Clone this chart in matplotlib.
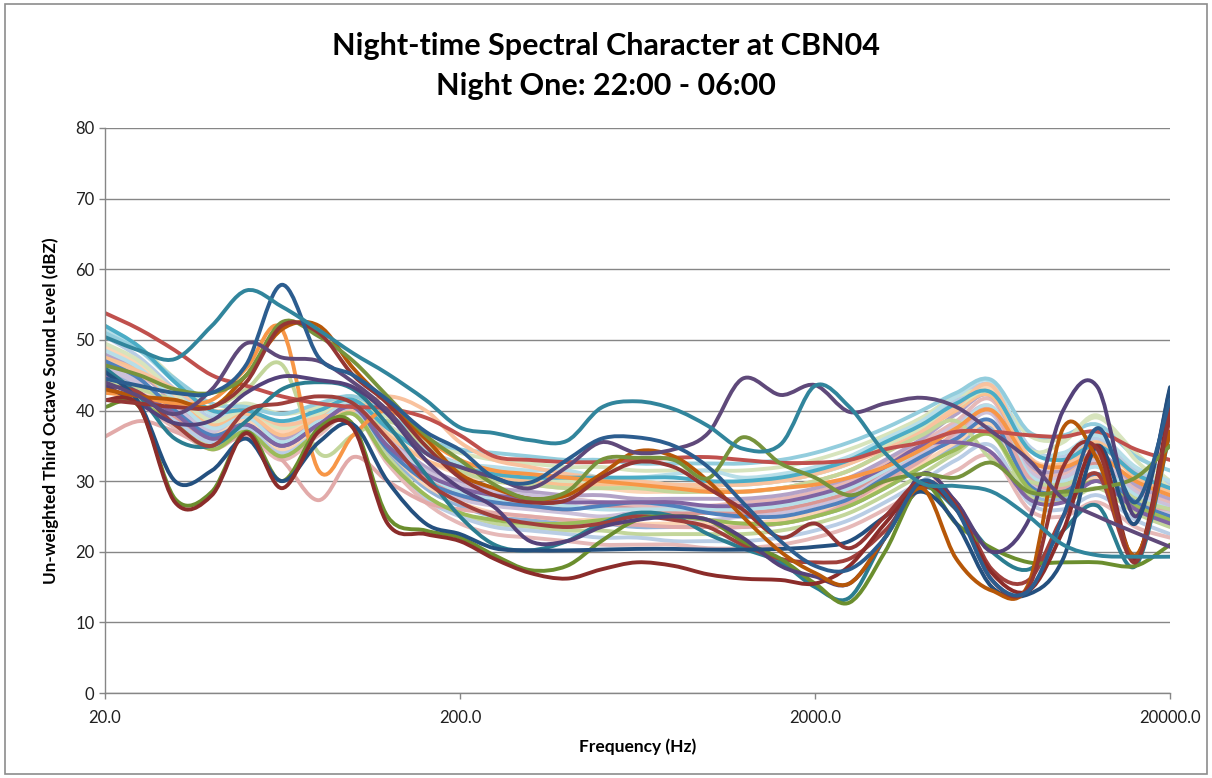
import numpy as np
import matplotlib
matplotlib.use("Agg")
import matplotlib.pyplot as plt
from matplotlib.path import Path
from matplotlib.patches import PathPatch, Rectangle

# third octave band centres (Hz)
FREQS = [20, 25, 31.5, 40, 50, 63, 80, 100, 125, 160, 200, 250, 315, 400, 500, 630,
         800, 1000, 1250, 1600, 2000, 2500, 3150, 4000, 5000, 6300, 8000, 10000,
         12500, 16000, 20000]
X_TICKS = [20, 200, 2000, 20000]
X_TICK_LABELS = ["20.0", "200.0", "2000.0", "20000.0"]
Y_TICKS = [0, 10, 20, 30, 40, 50, 60, 70, 80]

TITLE = "Night-time Spectral Character at CBN04\nNight One: 22:00 - 06:00"
X_LABEL = "Frequency (Hz)"
Y_LABEL = "Un-weighted Third Octave Sound Level (dBZ)"

# --- pale / background series (dBZ per band) ---
B01 = [50.5, 47.5, 43, 39, 40.5, 37.5, 40, 41.5, 38, 34.5, 32.5, 31.5, 31, 30.5, 30, 30, 29.5, 29.5, 29.5, 30, 31, 32.5, 35, 38, 41.5, 43.5, 35, 33.5, 36, 31.5, 29.5]
B02 = [47, 45, 41.5, 37.5, 39, 35, 38.5, 41, 36, 31, 29, 28, 27.5, 27.5, 27, 26.5, 26.5, 26.5, 27, 27.5, 28.5, 30, 32.5, 35.5, 38.5, 41.5, 32, 31, 34, 29, 27]
B03 = [52, 49, 44.5, 40, 41, 39.5, 40.5, 42, 39, 35.5, 34, 33, 32.5, 32, 32, 31.5, 31.5, 31.5, 31.5, 32, 33, 34.5, 36.5, 39, 42, 42.5, 36.5, 36, 39, 34, 30]
B04 = [46, 43.5, 40, 36.5, 38.5, 34, 37.5, 40.5, 35, 30, 27.5, 26.5, 26, 25.5, 25, 25.5, 25, 24.5, 25, 25.5, 26.5, 28, 31, 34, 36.5, 39.5, 30, 29, 31, 27.5, 25.5]
B05 = [51.5, 48.5, 44, 39.5, 40, 38, 40, 41.5, 37.5, 34, 32.5, 32, 31.5, 31.5, 30.5, 30.5, 31, 31.5, 30.5, 31, 32, 33.5, 36, 38.5, 42, 44, 34.5, 34, 36.5, 32, 30]
B06 = [49, 46.5, 42, 38.5, 40, 37, 39.5, 41.5, 37, 33, 31, 30, 29.5, 29, 29, 28.5, 28.5, 28.5, 28.5, 29, 30, 31.5, 34, 37, 40.5, 43, 33.5, 32.5, 35, 30.5, 28.5]
B07 = [45.5, 43, 39, 36, 38, 34.5, 37.5, 40.5, 34, 29, 26.5, 25, 24.5, 24, 24, 23.5, 23.5, 23.5, 23.5, 24, 25, 26.5, 29, 32, 35, 37.5, 28.5, 27.5, 30, 26, 24.5]
B08 = [44.5, 42.5, 39, 36, 38, 35, 38, 40.5, 35.5, 30.5, 28, 27, 26.5, 26, 26.5, 26, 25.5, 25.5, 25.5, 26, 27, 28.5, 31.5, 34.5, 37.5, 40, 31, 30, 32.5, 28, 26]
B09 = [43, 41.5, 38, 35, 37, 33.5, 37, 40, 33.5, 28, 25.5, 24, 23.5, 23, 23, 22.5, 22.5, 22.5, 22.5, 23, 24, 25.5, 28, 31, 34, 36.5, 28, 27, 29, 25.5, 23.5]
B10 = [48, 45.5, 41, 37.5, 39.5, 36, 39, 41, 36.5, 32, 30, 29, 28.5, 28, 28, 27.5, 27.5, 27.5, 27.5, 28, 29, 30.5, 33, 36, 39.5, 42, 32.5, 31.5, 34, 29.5, 27.5]
B11 = [51, 48.5, 44.5, 41, 40.5, 39.5, 41, 42, 39.5, 36, 34.5, 34, 33.5, 33, 33, 32.5, 32.5, 32.5, 32.5, 33, 34, 35.5, 37.5, 40, 42.5, 44.3, 37, 36.5, 38, 33.5, 31.5]
B12 = [47.5, 45.5, 41.5, 38, 39.5, 36.5, 39, 41, 36.5, 33, 31.5, 30.5, 30, 29.5, 29.5, 29.5, 29, 29, 28.5, 29, 30, 31.5, 34, 37, 40, 42, 33, 32.5, 35.5, 30.5, 28.5]
B13 = [44, 42, 38.5, 35.5, 37.5, 34, 37.5, 40, 33, 27.5, 25, 23.5, 23, 22.5, 22, 22, 21.5, 21.5, 21.5, 22, 23, 24.5, 27, 30, 33, 35, 27, 26, 28, 24.5, 22.5]
B14 = [43.5, 41, 37.5, 34.5, 36.5, 33, 36.5, 39.5, 32.5, 27, 24, 22.5, 22, 21.5, 21, 21, 21, 20.5, 20.5, 21, 22, 23.5, 26, 29, 31.5, 33.5, 26, 25, 27, 23.5, 22]
B15 = [49.5, 47, 42.5, 38.5, 40, 37.5, 39.5, 41.5, 38, 34, 32, 31, 30.5, 30, 30, 30, 29.5, 29.5, 29.5, 30, 31, 32.5, 35, 37.5, 40.5, 42.5, 34.5, 35.5, 39.3, 33, 29]
B16 = [46.5, 44, 40.5, 37, 38.5, 35.5, 38.5, 41, 36, 31.5, 29.5, 28.5, 28, 27.5, 27, 27, 26.5, 26.5, 26.5, 27, 28, 29.5, 32, 35, 38, 40.5, 31.5, 30.5, 33, 28.5, 26.5]
B17 = [48.5, 46, 41.5, 37.5, 39, 35.5, 38.5, 41, 35.5, 31, 28.5, 27.5, 27, 26.5, 26, 26, 26, 26, 26, 26.5, 27.5, 29, 31.5, 34.5, 37.5, 40.5, 31, 30, 32, 28, 26]
B18 = [45, 43, 39.5, 36.5, 38.5, 34.5, 38, 40.5, 34.5, 29.5, 27, 25.5, 25, 24.5, 24.5, 24, 24, 24, 24, 24.5, 25.5, 27, 29.5, 32.5, 35.5, 38, 29.5, 28.5, 30.5, 27, 25]
PINK_LOW = [36.3, 38.5, 37, 34.8, 36.3, 33, 27.3, 33.4, 30, 27, 26, 25.5, 25, 24.5, 24, 23.8, 23.5, 23.5, 23.5, 24, 25, 27, 30, 33, 37, 40, 30.5, 29, 31, 27, 26]
PEACH = [47, 45.5, 43, 40, 40, 38, 39, 40, 42, 40, 35.5, 33, 32, 31, 30.5, 30, 29.5, 29.5, 29.5, 30, 31, 32.5, 34.5, 37, 40.5, 43.5, 33.5, 32, 35, 31, 29]
LIGHT_GREEN = [44, 43, 41.5, 40.5, 43, 46.5, 34, 36.5, 38.5, 35, 31.5, 30, 29.5, 29, 29, 29, 28.5, 28.5, 28.5, 29, 30, 31.5, 34, 36.5, 38.5, 33, 30, 29.5, 31, 27.5, 26]

# --- mid tone series ---
BLUE = [47, 44.5, 40, 36.5, 38, 35, 38, 40.5, 34.5, 30, 28, 27, 26.5, 26, 26.5, 27, 26.5, 25.5, 25, 25, 26, 27.5, 30.5, 33.5, 36, 38.5, 29.5, 28.5, 31, 27, 25]
GREEN = [41.5, 41, 38, 34.5, 37, 33.5, 37, 39.5, 33, 28, 25.5, 24.5, 24, 24, 24.5, 25, 25, 24.5, 24, 24, 25, 26.5, 29, 32, 34.5, 36.5, 29, 28, 30, 26.5, 24.5]
VIOLET = [45, 42.5, 39.5, 36, 38, 35, 38, 40.5, 35, 31, 29, 28, 27.5, 27, 27, 27, 27, 26.5, 26.5, 27, 28, 29.5, 32, 35, 35.5, 34, 27.5, 27, 30, 26, 24]
AQUA = [52, 49, 44, 40, 40, 38.5, 40, 41.5, 37.5, 34, 32, 31, 30.5, 30.5, 30.5, 30.5, 30.5, 30, 30, 30.5, 31.5, 33, 35.5, 38, 41, 42.5, 34.5, 33, 35, 31, 29]
ORANGE = [42.5, 42, 41, 41.5, 46, 51.5, 31.5, 36.5, 40, 36, 33, 31.5, 31, 30.5, 30, 29.5, 29, 28.5, 28.5, 29, 29.5, 30.5, 32, 34.5, 37.5, 40, 33, 32, 33.5, 30, 28]
RED = [53.8, 51.5, 48.5, 45, 43.5, 42, 41, 40.5, 40.3, 39, 36.5, 33.5, 33, 32.7, 32.7, 33, 33.3, 33.4, 33, 32.6, 32.6, 33, 34.5, 35.5, 37, 37, 36.5, 36.3, 37, 34.5, 33]

# --- dark series ---
TEAL_A = [50.4, 48.5, 47.3, 52, 57, 54.7, 51.4, 48.1, 45.2, 41.5, 37.6, 36.8, 35.8, 35.7, 40.4, 41.3, 40.2, 37.8, 34.6, 35.2, 43.5, 40.5, 34, 29.7, 29.3, 28.5, 25, 21, 19.5, 19.3, 19.3]
TEAL_B = [46, 42, 36, 35, 38.5, 43, 44, 43, 38, 31, 25, 21, 20.2, 21.5, 24, 25.5, 25, 22.5, 20.5, 18.5, 15, 13.5, 22, 29, 26, 20, 17.5, 23, 26.5, 18, 37]
DBLUE_A = [44.5, 43.5, 42.5, 42.5, 46.5, 57.8, 47.5, 45, 41.5, 37, 34.4, 30.5, 29.8, 33, 36, 36.2, 35, 32, 27, 21.5, 18, 17.5, 22, 30, 26, 16, 14.5, 25, 37.5, 27, 41.5]
DBLUE_B = [45.5, 41, 30, 31.5, 36, 30, 35.5, 38, 30, 24, 22.5, 20.5, 20.2, 20.2, 20.3, 20.4, 20.4, 20.3, 20.3, 20.4, 20.7, 21.5, 25, 28.5, 24, 15, 14, 19, 35, 24, 43.3]
DRED_A = [41.5, 40.5, 27, 28, 36.8, 29, 37, 37.5, 24, 22.5, 21.5, 19, 17, 16.2, 17.5, 18.5, 18, 16.8, 16.2, 16, 15.5, 18, 24, 29.5, 26, 17, 14.5, 23, 35, 19, 41]
DRED_B = [41.5, 41, 40.5, 40.5, 44, 52, 51, 45, 41, 35, 30.5, 28, 27, 27.3, 30.5, 32.7, 32, 29, 26, 22, 24, 20.5, 25, 30, 26.5, 16, 15, 32, 34.5, 18.5, 40]
DRED_C = [43.5, 42.5, 38, 35, 40, 41, 42, 41, 36, 30, 27, 25, 24, 23.5, 24, 25, 24.5, 23.5, 21, 19, 18.5, 19, 23, 29, 27, 17.5, 16, 25, 31, 19, 39]
OLIVE_A = [40.5, 40.5, 27.5, 28.5, 37, 30, 37.5, 38, 25, 23, 22, 19.5, 17.4, 18, 21.5, 24.5, 25, 24.5, 21.5, 19, 15.5, 12.8, 20, 29.5, 24, 20.5, 18.5, 18.5, 18.5, 18, 21]
OLIVE_B = [46.4, 45, 43, 42.5, 45, 52.5, 50.5, 47, 42, 36.5, 33, 29.5, 27.5, 28.5, 33, 33.3, 33, 30.4, 36.2, 32.5, 30.5, 28, 30, 31, 30.5, 32.6, 28.5, 28.5, 29, 30.5, 35]
BROWN = [43, 42, 41.5, 40.5, 45, 51.5, 52, 46, 41, 36, 31, 29, 27.5, 28, 31, 34.2, 33.5, 30, 25, 20, 17, 15.5, 22, 29, 19, 14.5, 15.5, 37.5, 33, 19.5, 37]
PURPLE_A = [44, 42, 39.5, 43, 49.5, 47.5, 47, 44, 40, 34, 32, 30.5, 29, 32, 35.5, 34, 34.5, 36.8, 44.5, 42.2, 43.6, 39.8, 41, 41.8, 40.5, 37, 33, 27.5, 25, 22.7, 20.7]
PURPLE_B = [43.5, 41, 38.2, 38.6, 42.5, 44.8, 44.3, 43.3, 39.5, 33, 29, 26.3, 21.5, 21.5, 23.5, 24.5, 25, 24.5, 22, 18, 16.5, 15.5, 22, 31, 27, 20, 24.5, 40, 43.3, 25, 43]

# drawing order: pale first, dark on top
SERIES = [
    (B01, "#b9cde5"), (B02, "#e6b9b8"), (B03, "#d7e4bd"), (B04, "#ccc1da"),
    (B05, "#b7dee8"), (B06, "#fcd5b5"), (B07, "#95b3d7"), (B08, "#d99694"),
    (B09, "#c3d69b"), (B10, "#b3a2c7"), (B11, "#93cddd"), (B12, "#fac090"),
    (B13, "#b9cde5"), (B14, "#e6b9b8"), (B15, "#d7e4bd"), (B16, "#ccc1da"),
    (B17, "#b7dee8"), (B18, "#fcd5b5"), (PINK_LOW, "#e2aaa9"), (PEACH, "#f9c29e"),
    (LIGHT_GREEN, "#c3d69b"),
    (BLUE, "#4f81bd"), (GREEN, "#9bbb59"), (VIOLET, "#8064a2"), (AQUA, "#4bacc6"),
    (ORANGE, "#f79646"), (RED, "#c0504d"),
    (TEAL_B, "#2b7d90"), (DRED_C, "#a0403c"), (OLIVE_A, "#6b8e2e"),
    (PURPLE_B, "#54427a"), (DBLUE_B, "#24507f"), (DRED_A, "#8b2c2a"),
    (BROWN, "#b65708"), (OLIVE_B, "#77933c"), (DRED_B, "#943634"),
    (PURPLE_A, "#5f497a"), (DBLUE_A, "#2c5d8f"), (TEAL_A, "#31859c"),
]


def smooth_path(freqs, vals):
    """Excel style smoothed line: Catmull-Rom bezier segments in log-frequency space."""
    u = np.log10(np.asarray(freqs, dtype=float))
    v = np.asarray(vals, dtype=float)
    n = len(u)
    verts = [(freqs[0], v[0])]
    codes = [Path.MOVETO]
    for i in range(n - 1):
        i0 = max(i - 1, 0)
        i3 = min(i + 2, n - 1)
        c1u = u[i] + (u[i + 1] - u[i0]) / 6
        c1v = v[i] + (v[i + 1] - v[i0]) / 6
        c2u = u[i + 1] - (u[i3] - u[i]) / 6
        c2v = v[i + 1] - (v[i3] - v[i]) / 6
        verts += [(10 ** c1u, c1v), (10 ** c2u, c2v), (freqs[i + 1], v[i + 1])]
        codes += [Path.CURVE4] * 3
    return Path(verts, codes)


def main():
    for vals, _ in SERIES:
        if len(vals) != len(FREQS):
            raise ValueError("series length %d" % len(vals))

    plt.rcParams["font.family"] = ["Lato", "DejaVu Sans"]
    fig = plt.figure(figsize=(12.12, 7.78), dpi=100)
    ax = fig.add_axes([105 / 1212, 1 - 693 / 778, 1065 / 1212, 565 / 778])

    ax.set_xscale("log")
    ax.set_xlim(20, 20000)
    ax.set_ylim(0, 80)

    for vals, colour in SERIES:
        patch = PathPatch(smooth_path(FREQS, vals), fill=False, edgecolor=colour,
                          lw=2.8, capstyle="round", joinstyle="round")
        ax.add_patch(patch)

    ax.set_yticks(Y_TICKS)
    ax.set_xticks(X_TICKS)
    ax.set_xticklabels(X_TICK_LABELS)
    ax.xaxis.set_minor_locator(matplotlib.ticker.NullLocator())
    ax.tick_params(axis="both", labelsize=12, colors="#868686", labelcolor="#202020",
                   length=4, width=1)
    ax.tick_params(axis="x", pad=8)
    ax.yaxis.grid(True, color="#868686", lw=1)
    ax.set_axisbelow(True)
    for side in ("top", "right"):
        ax.spines[side].set_visible(False)
    for side in ("left", "bottom"):
        ax.spines[side].set_color("#868686")
        ax.spines[side].set_linewidth(1)

    ax.set_xlabel(X_LABEL, fontsize=12.5, fontweight="bold", labelpad=9)
    ax.set_ylabel(Y_LABEL, fontsize=12.3, fontweight="bold", labelpad=12)
    fig.text(0.5, 1 - 66 / 778, TITLE, ha="center", va="center", fontsize=22,
             fontweight="bold", linespacing=1.5)

    fig.patches.append(Rectangle((5 / 1212, 4 / 778), 1202 / 1212, 770 / 778,
                                 transform=fig.transFigure, fill=False,
                                 edgecolor="#8c8c8c", lw=1.2))

    fig.savefig("out.png", dpi=100)
    plt.close(fig)


if __name__ == "__main__":
    main()
